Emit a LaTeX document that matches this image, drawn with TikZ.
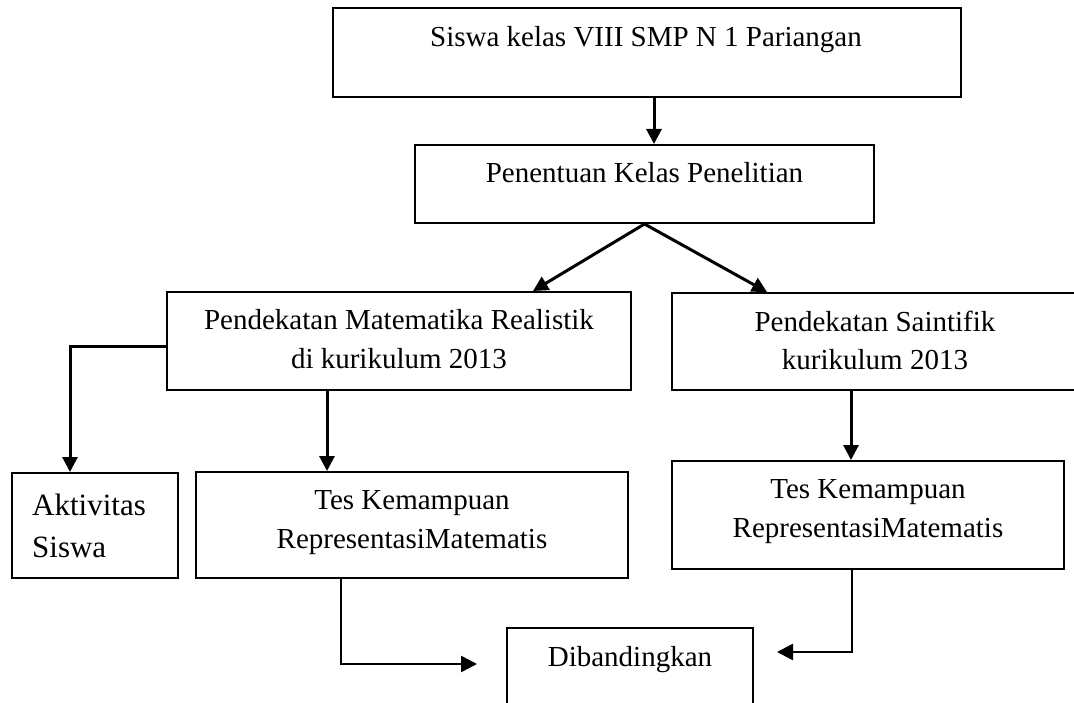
\documentclass[tikz,border=0pt]{standalone}
\usepackage{fontspec}
\setmainfont{Liberation Serif}
\usetikzlibrary{arrows.meta}
\begin{document}
\begin{tikzpicture}[x=1pt,y=-1pt,
  boxsty/.style={draw,line width=2pt,inner sep=0pt},
  txt/.style={inner sep=0pt,anchor=base,align=center,font=\fontsize{29}{38.5}\selectfont},
  arr/.style={line width=3pt,-{Triangle[length=15pt,width=15pt]}},
  arrb/.style={line width=2.6pt,-{Triangle[length=16pt,width=16pt]}}]
\useasboundingbox (0,0) rectangle (1074,703);
\clip (0,0) rectangle (1074,703);
\fill[white] (0,0) rectangle (1074,703);
% boxes
\node[boxsty,minimum width=628pt,minimum height=89pt] (b1) at (647,52.5) {};
\node[boxsty,minimum width=459pt,minimum height=78pt] (b2) at (644.5,184) {};
\node[boxsty,minimum width=464pt,minimum height=98pt] (b3) at (399,341) {};
\node[boxsty,minimum width=406pt,minimum height=97pt] (b4) at (875,341.5) {};
\node[boxsty,minimum width=166pt,minimum height=105pt] (b5) at (95,525.5) {};
\node[boxsty,minimum width=432pt,minimum height=106pt] (b6) at (412,525) {};
\node[boxsty,minimum width=392pt,minimum height=108pt] (b7) at (868,515) {};
\node[boxsty,minimum width=246pt,minimum height=112pt] (b8) at (630,684) {};
% texts (multi-line nodes: base = last line)
\node[txt] (t1) at (646,47) {Siswa kelas VIII SMP N 1 Pariangan};
\node[txt] (t2) at (644.5,183) {Penentuan Kelas Penelitian};
\node[txt] (t3) at (399,368) {Pendekatan Matematika Realistik\\di kurikulum 2013};
\node[txt] (t4) at (875,370) {Pendekatan Saintifik\\kurikulum 2013};
\node[txt,anchor=base west,align=left,font=\fontsize{31}{42}\selectfont] (t5) at (32,557) {Aktivitas\\Siswa};
\node[txt] (t6) at (412,548) {Tes Kemampuan\\RepresentasiMatematis};
\node[txt] (t7) at (868,537) {Tes Kemampuan\\RepresentasiMatematis};
\node[txt] (t8) at (630,666) {Dibandingkan};
% connectors
\draw[arr] ([xshift=7pt]b1.south) -- ([xshift=9.5pt]b2.north);
\draw[arr] (b2.south) -- ([xshift=134pt]b3.north);
\draw[arr] (b2.south) -- ([xshift=-108pt]b4.north);
\draw[arr] ([yshift=-6pt]b3.west) -| ([xshift=-25pt]b5.north);
\draw[arr] ([xshift=-72pt]b3.south) -- ([xshift=-85pt]b6.north);
\draw[arr] ([xshift=-24pt]b4.south) -- ([xshift=-17pt]b7.north);
\coordinate (m1) at (477,664);
\coordinate (m2) at (777,652);
\draw[arrb] ([xshift=-71pt]b6.south) |- (m1);
\draw[arrb] ([xshift=-16pt]b7.south) |- (m2);
\end{tikzpicture}
\end{document}
